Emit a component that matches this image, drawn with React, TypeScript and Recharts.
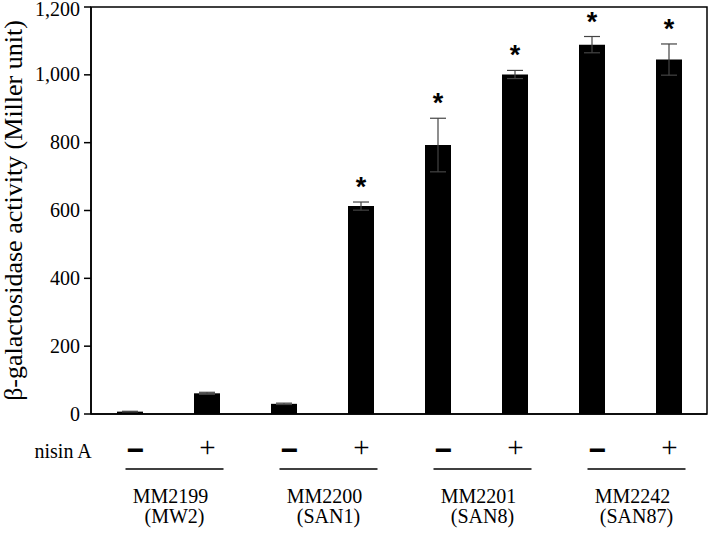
import React from "react";
import { BarChart, Bar, XAxis, YAxis, ErrorBar, LabelList, ReferenceArea, Label } from "recharts";

const strains = ["MM2199", "MM2200", "MM2201", "MM2242"];
const parents = ["(MW2)", "(SAN1)", "(SAN8)", "(SAN87)"];
const nisin = ["\u2212", "+", "\u2212", "+", "\u2212", "+", "\u2212", "+"];
const activity = [7, 61, 30, 613, 793, 1001, 1089, 1045];
const sd = [1, 3, 2, 12, 79, 12, 24, 46];
const significant = [false, false, false, true, true, true, true, true];
const yTicks = [0, 200, 400, 600, 800, 1000, 1200];

const data = activity.map((v, i) => ({
  id: strains[Math.floor(i / 2)] + nisin[i],
  value: v,
  sd: sd[i],
  sig: significant[i],
}));

const W = 709;
const H = 534;
const margin = { top: 7, right: 2, left: 0, bottom: 0 };
const Y_AXIS_W = 91;
const BAND = (W - margin.left - margin.right - Y_AXIS_W) / nisin.length;
const serif = "Liberation Serif";
const sans = "Liberation Sans";
const serifStyle = { fontFamily: serif };

function XTick(props: any) {
  const { x, y, index } = props;
  const sign = nisin[index];
  const isMinus = index % 2 === 0;
  const g = Math.floor(index / 2);
  return (
    <g>
      {index === 0 && (
        <text x={x - 95} y={y + 44} style={serifStyle} fontSize={20} fill="#000">
          nisin A
        </text>
      )}
      {isMinus ? (
        <text x={x + 6} y={y + 46} textAnchor="middle" style={{ fontFamily: sans }} fontWeight="bold" fontSize={30} fill="#000">
          {sign}
        </text>
      ) : (
        <text x={x + 1} y={y + 43} textAnchor="middle" style={serifStyle} fontSize={29} fill="#000">
          {sign}
        </text>
      )}
      {isMinus && (
        <g>
          <line x1={x - 4} x2={x + BAND + 17} y1={y + 55} y2={y + 55} stroke="#000" strokeWidth={1.6} />
          <text x={x + 41} y={y + 89} textAnchor="middle" style={serifStyle} fontSize={20} fill="#000">
            {strains[g]}
          </text>
          <text x={x + 45} y={y + 109} textAnchor="middle" style={serifStyle} fontSize={20} fill="#000">
            {parents[g]}
          </text>
        </g>
      )}
    </g>
  );
}

function YTick(props: any) {
  const { x, y, payload } = props;
  return (
    <text x={x} y={y} dy={6.5} textAnchor="end" style={serifStyle} fontSize={20} fill="#000">
      {Number(payload.value).toLocaleString("en-US")}
    </text>
  );
}

function Star(props: any) {
  const { x, y, width, height, value, index } = props;
  if (!significant[index]) return null;
  const perUnit = height / value;
  const errTop = y - sd[index] * perUnit;
  return (
    <text x={x + width / 2} y={errTop - 6} textAnchor="middle" style={{ fontFamily: sans }} fontWeight="bold" fontSize={27} fill="#000">
      *
    </text>
  );
}

function YLabel(props: any) {
  const vb = props.viewBox || {};
  const cy = vb.y + vb.height / 2;
  return (
    <text transform="rotate(-90)" x={-cy} y={22} textAnchor="middle" style={serifStyle} fontSize={26} fill="#000">
      β-galactosidase activity (Miller unit)
    </text>
  );
}

export default function App() {
  return (
    <div style={{ width: W, height: H, background: "#fff", fontFamily: serif }}>
      <style>{"body{margin:0}"}</style>
      <BarChart width={W} height={H} data={data} margin={margin} barCategoryGap={0}>
        <ReferenceArea x1={data[0].id} x2={data[data.length - 1].id} y1={0} y2={1200} fill="none" stroke="#000" strokeWidth={1.5} ifOverflow="visible" />
        <XAxis
          dataKey="id"
          height={120}
          tickLine={false}
          tickSize={0}
          tickMargin={0}
          axisLine={{ stroke: "#000", strokeWidth: 1.5 }}
          tick={<XTick />}
          interval={0}
        />
        <YAxis
          width={Y_AXIS_W}
          domain={[0, 1200]}
          ticks={yTicks}
          tickSize={7}
          tickMargin={4}
          axisLine={{ stroke: "#000", strokeWidth: 1.5 }}
          tickLine={{ stroke: "#000", strokeWidth: 1.5 }}
          tick={<YTick />}
        >
          <Label content={<YLabel />} />
        </YAxis>
        <Bar dataKey="value" fill="#000" barSize={26} isAnimationActive={false}>
          <ErrorBar dataKey="sd" width={8} stroke="#444" strokeWidth={1.2} />
          <LabelList dataKey="value" content={<Star />} />
        </Bar>
      </BarChart>
    </div>
  );
}
